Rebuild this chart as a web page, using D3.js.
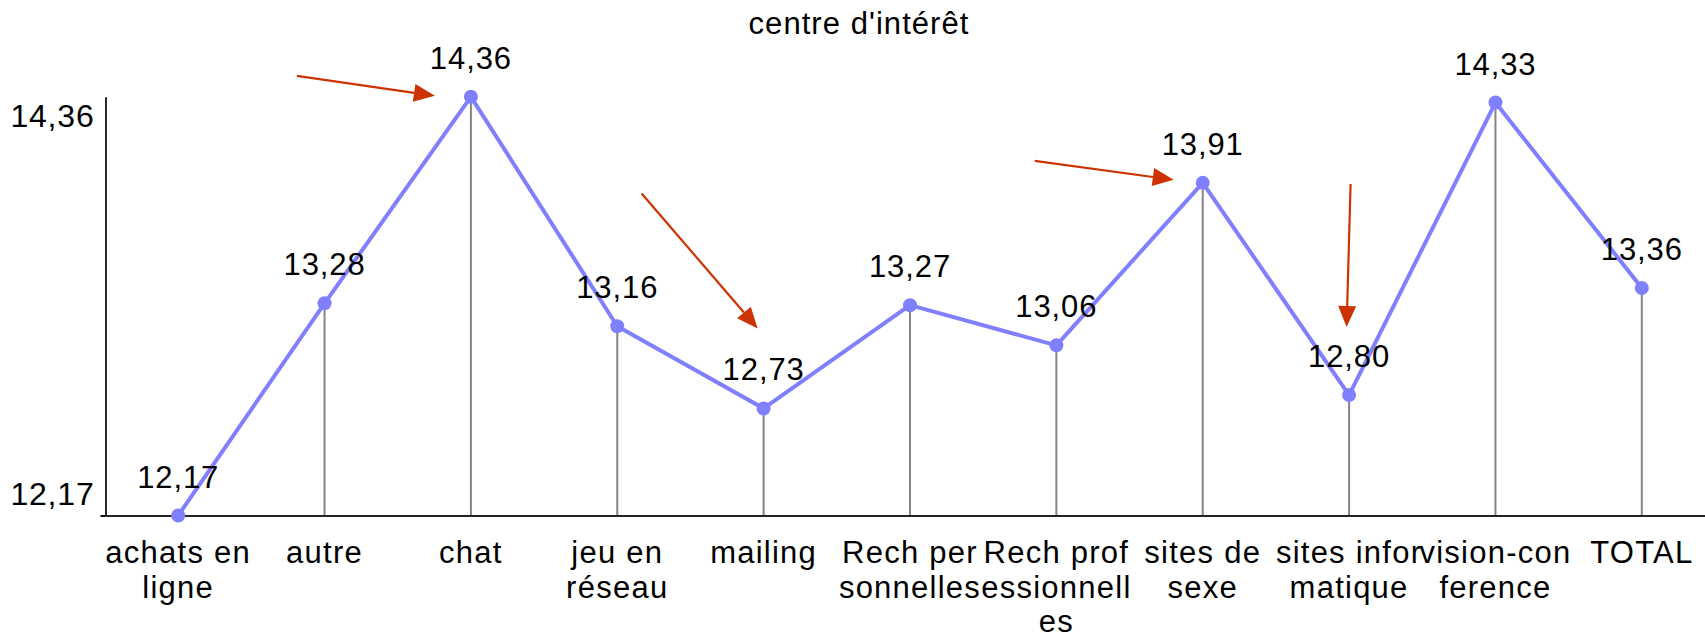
<!DOCTYPE html>
<html>
<head>
<meta charset="utf-8">
<script src="https://cdn.jsdelivr.net/npm/d3@7"></script>
<style>
  html, body { margin: 0; padding: 0; background: #fff; }
  #chart { width: 1705px; height: 637px; }
  text { font-family: "Liberation Sans", Arial, sans-serif; fill: #000; }
</style>
</head>
<body>
<div id="chart"></div>
<script>
// categories (split over lines the way the original wraps them)
const categories = [
  ["achats en", "ligne"],
  ["autre"],
  ["chat"],
  ["jeu en", "réseau"],
  ["mailing"],
  ["Rech per", "sonnelles"],
  ["Rech prof", "essionnell", "es"],
  ["sites de", "sexe"],
  ["sites infor", "matique"],
  ["vision-con", "ference"],
  ["TOTAL"]
];
const values = [12.17, 13.28, 14.36, 13.16, 12.73, 13.27, 13.06, 13.91, 12.80, 14.33, 13.36];
const yTicks = [12.17, 14.36];
const title = "centre d'intérêt";

// which points the red arrows point at
const arrowTargets = [2, 4, 7, 8];

function chart(id) {
  const div = d3.select(`#${id}`);
  div.selectAll("*").remove();

  const width = 1705;
  const height = 637;
  const svg = div.append("svg").attr("width", width).attr("height", height);

  const fmt = (v) => d3.format(".2f")(v).replace(".", ",");
  const keys = categories.map((d) => d.join(" "));
  const data = keys.map((k, i) => ({ key: k, lines: categories[i], value: values[i] }));

  // scales
  const x = d3.scalePoint().domain(keys).range([105, 1715]).padding(0.5);
  const y = d3.scaleLinear().domain(d3.extent(values)).range([515.5, 96.8]);

  // title
  svg.append("text")
    .attr("x", 859)
    .attr("y", 34)
    .attr("text-anchor", "middle")
    .style("font-size", "31px")
    .style("letter-spacing", "1.05px")
    .text(title);

  // drop lines from each point to the base
  svg.selectAll(".drop")
    .data(data)
    .join("line")
    .attr("class", "drop")
    .attr("x1", (d) => x(d.key))
    .attr("x2", (d) => x(d.key))
    .attr("y1", (d) => y(d.value))
    .attr("y2", y.range()[0])
    .attr("stroke", "#858585")
    .attr("stroke-width", 2);

  // x axis (just the base line, labels drawn below)
  const AxisX = svg.append("g").attr("transform", `translate(0,${y.range()[0]})`);
  AxisX.call(d3.axisBottom(x).tickSize(0).tickFormat(""));
  AxisX.select(".domain").attr("stroke", "#222").attr("stroke-width", 2.2);

  // y axis with only min and max
  const AxisY = svg.append("g").attr("transform", "translate(105.5,0)");
  AxisY.call(d3.axisLeft(y).tickValues(yTicks).tickSizeOuter(0).tickSizeInner(5).tickFormat(fmt));
  AxisY.select(".domain").attr("stroke", "#111").attr("stroke-width", 1.8);
  AxisY.selectAll(".tick line")
    .attr("stroke", "#111")
    .attr("stroke-width", 2)
    .attr("opacity", (d) => (d === yTicks[0] ? 1 : 0));
  AxisY.selectAll(".tick text")
    .attr("x", -11)
    .attr("dy", (d) => (d === yTicks[0] ? "-0.33em" : "0.93em"))
    .style("font-family", '"Liberation Sans", Arial, sans-serif')
    .style("font-size", "32px")
    .style("letter-spacing", "0.8px")
    .attr("fill", "#000");

  // category labels
  const labels = svg.selectAll(".cat")
    .data(data)
    .join("text")
    .attr("class", "cat")
    .attr("text-anchor", "middle")
    .style("font-size", "31px")
    .style("letter-spacing", "1.25px");
  labels.selectAll("tspan")
    .data((d) => d.lines.map((l) => ({ l, x: x(d.key) })))
    .join("tspan")
    .attr("x", (d) => d.x)
    .attr("y", (d, i) => 563 + i * 34.5)
    .text((d) => d.l);

  // line + dots
  const line = d3.line().x((d) => x(d.key)).y((d) => y(d.value));
  svg.append("path")
    .datum(data)
    .attr("d", line)
    .attr("fill", "none")
    .attr("stroke", "#8080ff")
    .attr("stroke-width", 4)
    .attr("stroke-linejoin", "round");

  svg.selectAll(".dot")
    .data(data)
    .join("circle")
    .attr("class", "dot")
    .attr("cx", (d) => x(d.key))
    .attr("cy", (d) => y(d.value))
    .attr("r", 7)
    .attr("fill", "#8080ff");

  // value labels
  svg.selectAll(".val")
    .data(data)
    .join("text")
    .attr("class", "val")
    .attr("x", (d) => x(d.key))
    .attr("y", (d) => y(d.value) - 28)
    .attr("text-anchor", "middle")
    .style("font-size", "31px")
    .style("letter-spacing", "0.9px")
    .text((d) => fmt(d.value));

  // red arrows, placed relative to the point they point at
  const arrowOffsets = [
    { sx: -174, sy: -21, ex: -36, ey: -1 },
    { sx: -122, sy: -215, ex: -6, ey: -80 },
    { sx: -168, sy: -22, ex: -29, ey: -3 },
    { sx: 1.5, sy: -211, ex: -2.5, ey: -68 }
  ];
  const arrows = arrowTargets.map((t, i) => {
    const px = x(keys[t]);
    const py = y(values[t]);
    const o = arrowOffsets[i];
    return { x1: px + o.sx, y1: py + o.sy, x2: px + o.ex, y2: py + o.ey };
  });

  const headLen = 21;
  const headHalf = 9;
  const arrowColor = "#cc3300";
  arrows.forEach((a) => {
    const ang = Math.atan2(a.y2 - a.y1, a.x2 - a.x1);
    const bx = a.x2 - headLen * Math.cos(ang);
    const by = a.y2 - headLen * Math.sin(ang);
    svg.append("line")
      .attr("x1", a.x1).attr("y1", a.y1)
      .attr("x2", bx).attr("y2", by)
      .attr("stroke", arrowColor)
      .attr("stroke-width", 2.2);
    const nx = -Math.sin(ang) * headHalf;
    const ny = Math.cos(ang) * headHalf;
    svg.append("path")
      .attr("d", `M${a.x2},${a.y2}L${bx + nx},${by + ny}L${bx - nx},${by - ny}Z`)
      .attr("fill", arrowColor);
  });
}

chart("chart");
</script>
</body>
</html>
